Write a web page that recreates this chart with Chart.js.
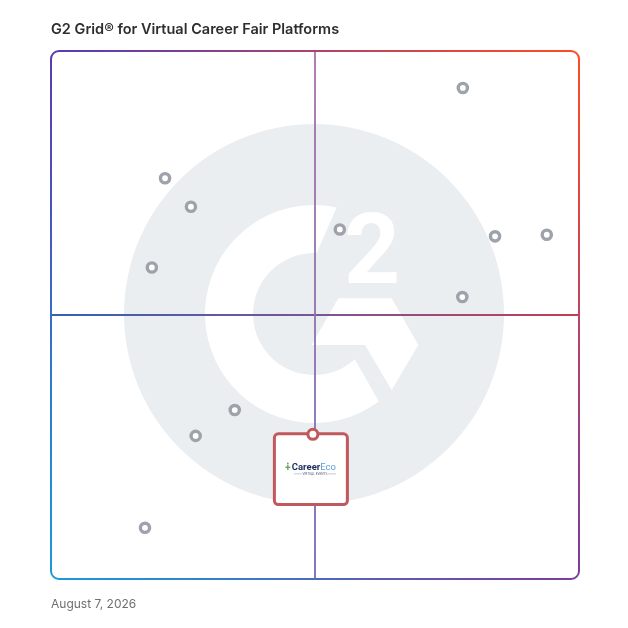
<!DOCTYPE html>
<html>
<head>
<meta charset="utf-8">
<title>G2 Grid for Virtual Career Fair Platforms</title>
<script src="https://cdn.jsdelivr.net/npm/chart.js@4.4.1/dist/chart.umd.min.js"></script>
<style>
  body { margin: 0; background: #fff; }
  #wrap { position: relative; width: 628px; height: 628px; }
  #box { position: absolute; left: 0; top: 0; width: 628px; height: 628px; }
  #title { position: absolute; left: 51px; top: 20px; font: 600 14.5px Inter, sans-serif; color: #2e2e2e; }
  #date { position: absolute; left: 51px; top: 596px; font: 12px Inter, sans-serif; color: #6f6f6f; }
</style>
</head>
<body>
<div id="wrap">
  <div id="box"><canvas id="grid"></canvas></div>
  <div id="title">G2 Grid® for Virtual Career Fair Platforms</div>
  <div id="date">August 7, 2026</div>
</div>
<script>
  // market presence (x) and satisfaction (y), 0-100, midpoint 50
  let marketPresence = [78.0, 21.6, 26.5, 19.1, 54.7, 84.1, 93.9, 77.9, 34.8, 27.4, 17.8];
  let satisfaction   = [93.0, 75.9, 70.5, 59.0, 66.2, 64.9, 65.2, 53.4, 32.0, 27.1, 9.7];
  let highlightName = 'CareerEco';
  let highlightPresence = [49.6];
  let highlightSatisfaction = [27.4];

  function toPoints(xs, ys) {
    let pts = [];
    for (let i = 0; i < xs.length; i++) {
      pts.push({x: xs[i], y: ys[i]});
    }
    return pts;
  }

  function rrect(ctx, x, y, w, h, r) {
    ctx.beginPath();
    ctx.moveTo(x + r, y);
    ctx.lineTo(x + w - r, y);
    ctx.arcTo(x + w, y, x + w, y + r, r);
    ctx.lineTo(x + w, y + h - r);
    ctx.arcTo(x + w, y + h, x + w - r, y + h, r);
    ctx.lineTo(x + r, y + h);
    ctx.arcTo(x, y + h, x, y + h - r, r);
    ctx.lineTo(x, y + r);
    ctx.arcTo(x, y, x + r, y, r);
    ctx.closePath();
  }

  let deg = Math.PI / 180;

  // G2 watermark, quadrant lines and the frame
  let gridBackdrop = {
    id: 'gridBackdrop',
    beforeDatasetsDraw(chart) {
      let ctx = chart.ctx;
      let a = chart.chartArea;
      let s = (a.right - a.left) / 528;
      let ox = (a.left + a.right) / 2 - 1;
      let oy = (a.top + a.bottom) / 2 - 1;
      ctx.save();
      // big circle
      ctx.fillStyle = '#ebeef1';
      ctx.beginPath();
      ctx.arc(ox, oy, 190 * s, 0, Math.PI * 2);
      ctx.fill();
      // G
      ctx.fillStyle = '#ffffff';
      ctx.beginPath();
      ctx.arc(ox, oy, 109 * s, 53.5 * deg, -78 * deg, false);
      ctx.arc(ox, oy, 61 * s, -87.5 * deg, 48 * deg, true);
      ctx.closePath();
      ctx.fill();
      let hex = [[24.3, -15.7], [77.7, -15.7], [104.3, 31], [77.7, 76], [51, 31], [-2.3, 31]];
      ctx.beginPath();
      hex.forEach(function (p, i) {
        if (i == 0) ctx.moveTo(ox + p[0] * s, oy + p[1] * s);
        else ctx.lineTo(ox + p[0] * s, oy + p[1] * s);
      });
      ctx.closePath();
      ctx.fill();
      // 2
      ctx.font = 'bold ' + (98 * s) + 'px Roboto, sans-serif';
      ctx.textAlign = 'center';
      ctx.textBaseline = 'alphabetic';
      ctx.fillText('2', ox + 58 * s, oy - 31 * s);

      // quadrant lines
      let mx = chart.scales.x.getPixelForValue(50);
      let my = chart.scales.y.getPixelForValue(50);
      ctx.lineWidth = 1.8;
      let hg = ctx.createLinearGradient(a.left, 0, a.right, 0);
      hg.addColorStop(0, '#3560b4');
      hg.addColorStop(0.5, '#7a5597');
      hg.addColorStop(1, '#c43c52');
      ctx.strokeStyle = hg;
      ctx.beginPath();
      ctx.moveTo(a.left, my);
      ctx.lineTo(a.right, my);
      ctx.stroke();
      let vg = ctx.createLinearGradient(0, a.top, 0, a.bottom);
      vg.addColorStop(0, '#a870a8');
      vg.addColorStop(0.5, '#8e72ac');
      vg.addColorStop(1, '#7468c0');
      ctx.strokeStyle = vg;
      ctx.beginPath();
      ctx.moveTo(mx, a.top);
      ctx.lineTo(mx, a.bottom);
      ctx.stroke();

      // frame
      let cg = ctx.createConicGradient(-45 * deg, (a.left + a.right) / 2, (a.top + a.bottom) / 2);
      cg.addColorStop(0, '#ff4a26');
      cg.addColorStop(0.25, '#7c3d9e');
      cg.addColorStop(0.5, '#1b99d8');
      cg.addColorStop(0.75, '#593db2');
      cg.addColorStop(1, '#ff4a26');
      ctx.strokeStyle = cg;
      ctx.lineWidth = 2;
      rrect(ctx, a.left, a.top, a.right - a.left, a.bottom - a.top, 8);
      ctx.stroke();
      ctx.restore();
    },
    beforeDatasetDraw(chart, args) {
      if (args.index != 1) return;
      let pt = chart.getDatasetMeta(1).data[0];
      if (!pt) return;
      let ctx = chart.ctx;
      let bx = pt.x - 38.5, by = pt.y - 0.5;
      ctx.save();
      rrect(ctx, bx, by, 73, 70.7, 4);
      ctx.fillStyle = '#ffffff';
      ctx.fill();
      ctx.strokeStyle = '#c1585b';
      ctx.lineWidth = 3;
      ctx.stroke();
      // logo
      let cx = bx + 36.5, cy = by + 33.5;
      ctx.font = 'bold 9.5px Roboto, sans-serif';
      ctx.textBaseline = 'middle';
      ctx.textAlign = 'left';
      let w1 = ctx.measureText('Career').width;
      ctx.font = '9.5px Roboto, sans-serif';
      let w2 = ctx.measureText('Eco').width;
      let tx = cx - (w1 + w2) / 2 + 3;
      ctx.font = 'bold 9.5px Roboto, sans-serif';
      ctx.fillStyle = '#1e2c5c';
      ctx.fillText('Career', tx, cy);
      ctx.fillStyle = '#5c9fd8';
      ctx.font = '9.5px Roboto, sans-serif';
      ctx.fillText('Eco', tx + w1, cy);
      // little green figure
      ctx.fillStyle = '#6aa84f';
      ctx.fillRect(tx - 6.5, cy - 0.7, 5, 1.4);
      ctx.fillRect(tx - 4.7, cy - 2.7, 1.4, 5.4);
      ctx.beginPath();
      ctx.arc(tx - 4, cy - 4, 0.9, 0, Math.PI * 2);
      ctx.fill();
      // tagline
      ctx.strokeStyle = '#8a94a8';
      ctx.lineWidth = 0.5;
      ctx.beginPath();
      ctx.moveTo(tx + 2, cy + 6.5);
      ctx.lineTo(tx + 10, cy + 6.5);
      ctx.moveTo(tx + w1 + w2 - 8, cy + 6.5);
      ctx.lineTo(tx + w1 + w2, cy + 6.5);
      ctx.stroke();
      ctx.fillStyle = '#5b6478';
      ctx.font = '3.2px Roboto, sans-serif';
      ctx.textAlign = 'center';
      ctx.fillText('VIRTUAL EVENTS', tx + (w1 + w2) / 2 + 1, cy + 6.5);
      ctx.restore();
    }
  };

  let ctx = document.getElementById('grid').getContext('2d');
  let gridChart = new Chart(ctx, {
    type: 'scatter',
    data: {
      datasets: [{
        label: 'Products',
        data: toPoints(marketPresence, satisfaction),
        pointRadius: 4.6,
        pointHoverRadius: 5,
        pointBorderWidth: 3.4,
        pointBorderColor: '#9ea2ab',
        pointBackgroundColor: '#ffffff',
        clip: false
      }, {
        label: highlightName,
        data: toPoints(highlightPresence, highlightSatisfaction),
        pointRadius: 5,
        pointHoverRadius: 5.5,
        pointBorderWidth: 3,
        pointBorderColor: '#c1585b',
        pointBackgroundColor: '#ffffff',
        clip: false
      }]
    },
    options: {
      responsive: true,
      maintainAspectRatio: false,
      animation: false,
      layout: { padding: { left: 51, top: 51, right: 49, bottom: 49 } },
      scales: {
        x: { display: false, min: 0, max: 100 },
        y: { display: false, min: 0, max: 100 }
      },
      plugins: {
        legend: { display: false },
        title: { display: false }
      }
    },
    plugins: [gridBackdrop]
  });
</script>
</body>
</html>
